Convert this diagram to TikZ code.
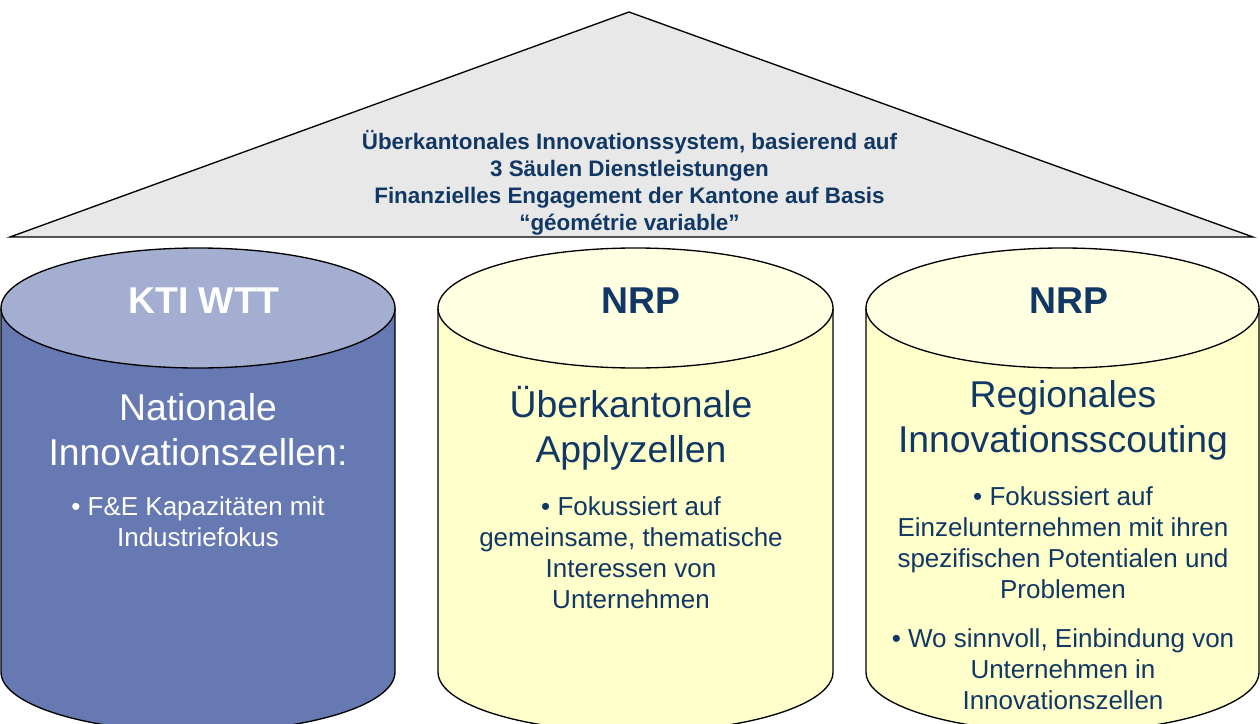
\documentclass[tikz,border=0pt]{standalone}
\usepackage{fontspec}
\setmainfont{Liberation Sans}
\definecolor{textblue}{RGB}{17,56,100}
\definecolor{roofgray}{RGB}{232,232,232}
\definecolor{ktibody}{RGB}{102,121,179}
\definecolor{ktitop}{RGB}{163,174,208}
\definecolor{nrpbody}{RGB}{255,255,204}
\definecolor{nrptop}{RGB}{255,255,226}
\tikzset{
  cantitle/.style={anchor=base, inner sep=0pt, text=textblue, font=\bfseries\fontsize{28}{33.75}\selectfont},
  canhead/.style={anchor=north, inner sep=0pt, align=center, text=textblue, font=\fontsize{28}{33.75}\selectfont},
  cantext/.style={anchor=north, inner sep=0pt, align=center, text=textblue, font=\fontsize{19.5}{23.25}\selectfont}
}

\begin{document}
\begin{tikzpicture}[x=0.75pt,y=0.75pt,yscale=-1,xscale=1,line width=1pt]
\useasboundingbox (0,0) rectangle (1260,724);
\clip (0,0) rectangle (1260,724);

%Shape: Triangle [roof]
\draw [fill=roofgray] (629,12) -- (1253,237) -- (10,237) -- cycle ;

%Shape: Can [KTI WTT]
\draw [fill=ktibody] (1,308) -- (1,672) arc [start angle=180, end angle=0, x radius=197, y radius=60] -- (395,308) ;
\draw [fill=ktitop] (198,308) ellipse [x radius=197, y radius=60] ;
%Shape: Can [NRP, middle]
\draw [fill=nrpbody] (438,308) -- (438,672) arc [start angle=180, end angle=0, x radius=197.5, y radius=60] -- (833,308) ;
\draw [fill=nrptop] (635.5,308) ellipse [x radius=197.5, y radius=60] ;
%Shape: Can [NRP, right]
\draw [fill=nrpbody] (866,308) -- (866,672) arc [start angle=180, end angle=0, x radius=196.5, y radius=60] -- (1259,308) ;
\draw [fill=nrptop] (1062.5,308) ellipse [x radius=196.5, y radius=60] ;

% Text Node
\draw (629.5,130) node (rooftext) [anchor=north, inner sep=0pt, align=center, text=textblue, font=\bfseries\fontsize{16.8}{20.25}\selectfont] {Überkantonales Innovationssystem, basierend auf\\3 Säulen Dienstleistungen\\Finanzielles Engagement der Kantone auf Basis\\“géométrie variable”};

% Text Node
\draw (204,313) node (ktititle) [cantitle, text=white] {KTI WTT};
% Text Node
\draw (198,393) node (ktihead) [canhead, text=white] {Nationale\\Innovationszellen:};
% Text Node
\draw (198,496) node (ktitext) [cantext, text=white] {• F\&E Kapazitäten mit\\Industriefokus};

% Text Node
\draw (641,313) node (nrpatitle) [cantitle] {NRP};
% Text Node
\draw (631,386) node (nrpahead) [canhead] {Überkantonale\\Applyzellen};
% Text Node
\draw (631,496) node (nrpatext) [cantext] {• Fokussiert auf\\gemeinsame, thematische\\Interessen von\\Unternehmen};

% Text Node
\draw (1069,313) node (nrpbtitle) [cantitle] {NRP};
% Text Node
\draw (1063,380) node (nrpbhead) [canhead] {Regionales\\Innovationsscouting};
% Text Node
\draw (1063,486) node (nrpbtext) [cantext] {• Fokussiert auf\\Einzelunternehmen mit ihren\\spezifischen Potentialen und\\Problemen\\[13.5pt]• Wo sinnvoll, Einbindung von\\Unternehmen in\\Innovationszellen};

\end{tikzpicture}
\end{document}
